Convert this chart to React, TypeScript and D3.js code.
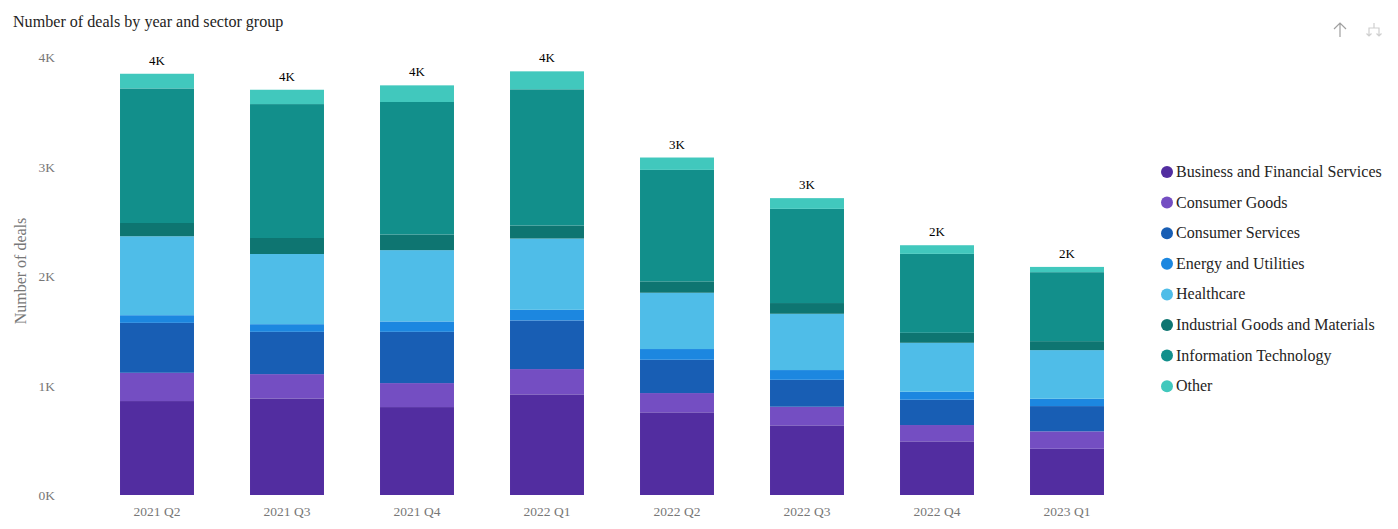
import React from "react";
import * as d3 from "d3";

const quarters = ["2021 Q2", "2021 Q3", "2021 Q4", "2022 Q1", "2022 Q2", "2022 Q3", "2022 Q4", "2023 Q1"];
const sectors = [
  "Business and Financial Services",
  "Consumer Goods",
  "Consumer Services",
  "Energy and Utilities",
  "Healthcare",
  "Industrial Goods and Materials",
  "Information Technology",
  "Other",
];
const businessFinancial = [858, 882, 803, 919, 755, 636, 490, 422];
const consumerGoods = [258, 222, 219, 231, 176, 170, 149, 159];
const consumerServices = [456, 386, 468, 444, 304, 246, 231, 231];
const energyUtilities = [70, 70, 95, 97, 98, 89, 73, 67];
const healthcare = [721, 641, 651, 651, 514, 514, 447, 444];
const industrialGoods = [121, 146, 143, 119, 104, 98, 91, 82];
const infoTech = [1229, 1223, 1210, 1244, 1018, 860, 721, 630];
const other = [134, 131, 152, 164, 113, 98, 79, 48];
const yTicks = [0, 1000, 2000, 3000, 4000];
const colors = ["#522DA0", "#744EC2", "#185EB4", "#1C87E0", "#4FBDE8", "#0E7571", "#128F8B", "#41C8BD"];

const seriesValues = [businessFinancial, consumerGoods, consumerServices, energyUtilities, healthcare, industrialGoods, infoTech, other];

const W = 1398;
const H = 529;
const FONT = "'Liberation Serif', 'Times New Roman', serif";

export default function App() {
  const rows = quarters.map((q, i) => {
    const r: any = { q };
    sectors.forEach((s, j) => (r[s] = seriesValues[j][i]));
    return r;
  });
  const stacked = d3.stack<any>().keys(sectors)(rows);
  const totals = rows.map((r) => d3.sum(sectors, (s) => r[s]));

  const x = d3.scaleBand<string>().domain(quarters).range([92, 1132]).paddingInner(0.431).paddingOuter(0.2155);
  const y = d3.scaleLinear().domain([0, 4000]).range([495, 57]);
  const fmtK = (v: number) => `${Math.round(v / 1000)}K`;

  return (
    <svg width={W} height={H} style={{ position: "absolute", left: 0, top: 0, background: "#fff" }} fontFamily={FONT}>
      <text x={13} y={27} fontSize={16.1} fill="#252423">Number of deals by year and sector group</text>

      {/* y axis */}
      {yTicks.map((t) => (
        <text key={t} x={55} y={y(t) + 5} textAnchor="end" fontSize={13.5} fill="#777">{fmtK(t)}</text>
      ))}
      <text transform={`translate(26,${y(2000) - 5}) rotate(-90)`} textAnchor="middle" fontSize={16} fill="#777">Number of deals</text>

      {/* bars */}
      {stacked.map((layer, j) => (
        <g key={layer.key} fill={colors[j]}>
          {layer.map((d, i) => (
            <rect key={i} x={x(quarters[i])} width={x.bandwidth()} y={y(d[1])} height={y(d[0]) - y(d[1])} />
          ))}
        </g>
      ))}

      {/* total labels */}
      {quarters.map((q, i) => (
        <text key={q} x={(x(q) as number) + x.bandwidth() / 2} y={y(totals[i]) - 9} textAnchor="middle" fontSize={13} fill="#000">{fmtK(totals[i])}</text>
      ))}

      {/* x labels */}
      {quarters.map((q) => (
        <text key={q} x={(x(q) as number) + x.bandwidth() / 2} y={516} textAnchor="middle" fontSize={13.5} fill="#777">{q}</text>
      ))}

      {/* legend */}
      {sectors.map((s, j) => (
        <g key={s} transform={`translate(1167,${172 + j * 30.6})`}>
          <circle cx={0} cy={0} r={6} fill={colors[j]} />
          <text x={9} y={5} fontSize={16} fill="#252423">{s}</text>
        </g>
      ))}

      {/* top-right icons */}
      <g stroke="#a0a0a0" strokeWidth={1.2} fill="none">
        <path d="M1340,37 L1340,23 M1334,29 L1340,23 L1346,29" />
      </g>
      <g stroke="#cfcfcf" strokeWidth={1.2} fill="none">
        <path d="M1374,23 L1374,28 M1369,36 L1369,28 L1379,28 L1379,36 M1366.5,33.5 L1369,36 L1371.5,33.5 M1376.5,33.5 L1379,36 L1381.5,33.5" />
      </g>
    </svg>
  );
}
